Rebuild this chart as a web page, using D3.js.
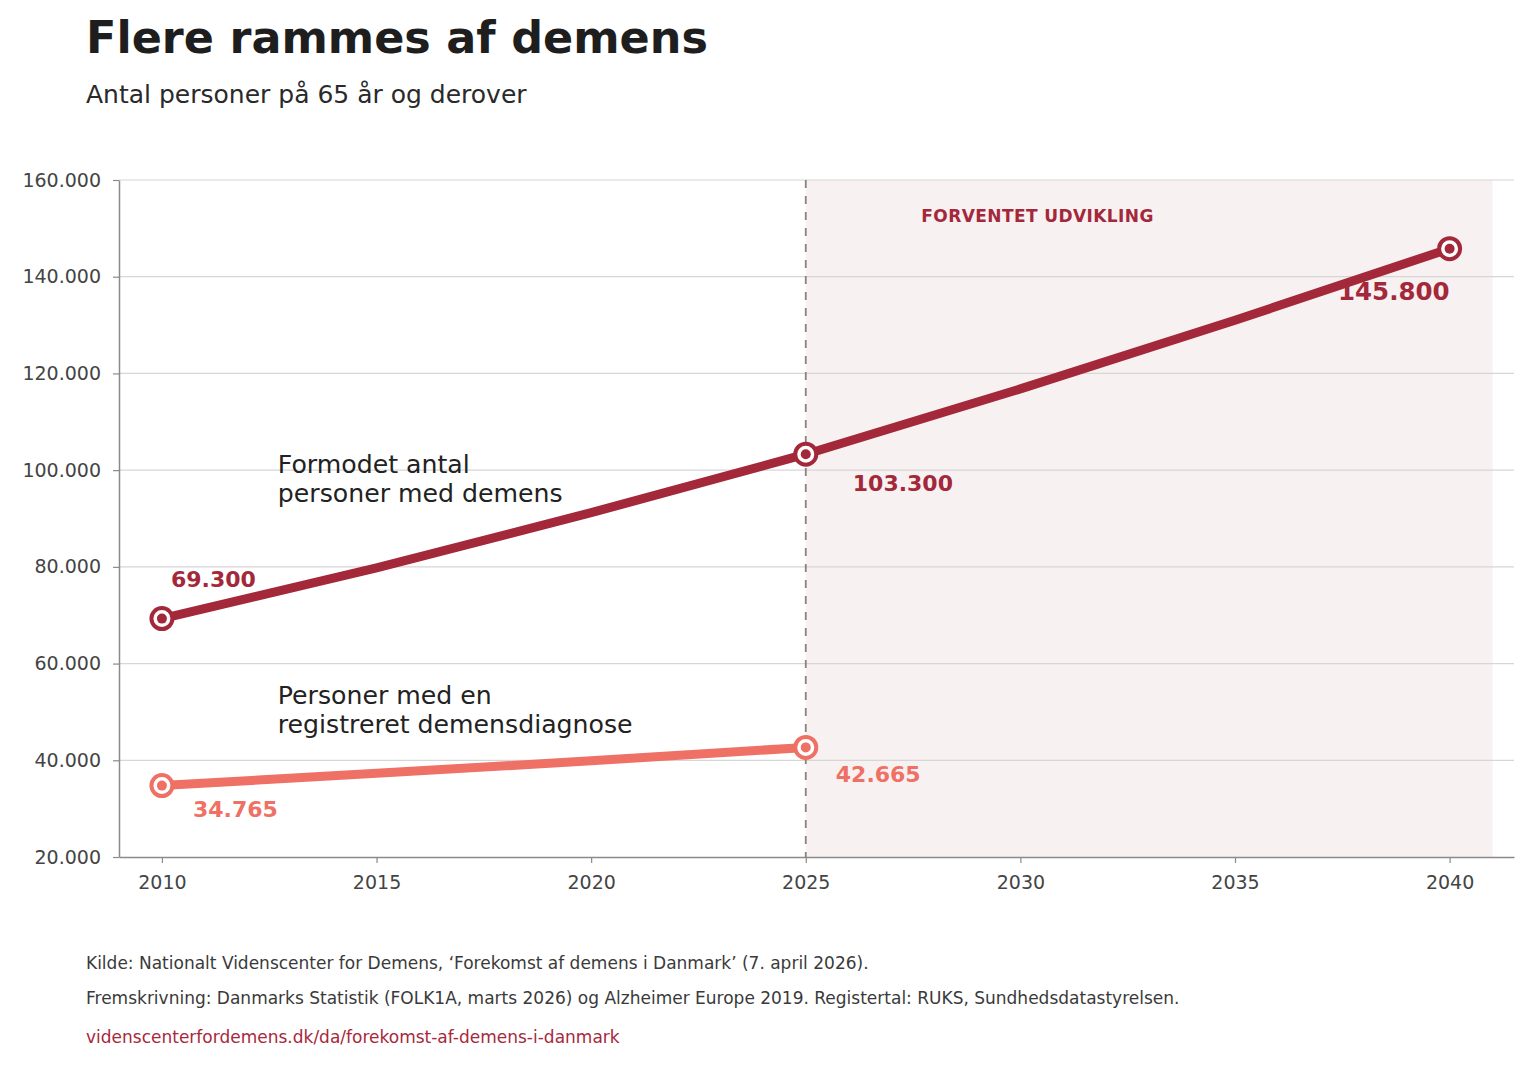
<!DOCTYPE html>
<html>
<head>
<meta charset="utf-8">
<script src="https://cdn.jsdelivr.net/npm/d3@7"></script>
<style>
  body { margin: 0; background: #fff; }
  text { font-family: "DejaVu Sans", sans-serif; }
</style>
</head>
<body>
<div id="chart"></div>
<script>
// data
const years = [2010, 2015, 2020, 2025, 2030, 2035, 2040];
const estimated = [69300, 79800, 91200, 103300, 116800, 131000, 145800];
const regYears = [2010, 2015, 2020, 2025];
const registered = [34765, 37300, 39900, 42665];
const yTicks = [20000, 40000, 60000, 80000, 100000, 120000, 140000, 160000];
const xTicks = [2010, 2015, 2020, 2025, 2030, 2035, 2040];
const forecastStart = 2025;
const forecastEnd = 2041;

const W = 1538, H = 1070;
const dark = "#a3283a";
const light = "#ef7064";
const fmt = d3.formatLocale({decimal: ",", thousands: ".", grouping: [3], currency: ["", ""]}).format(",d");

const svg = d3.select("#chart").append("svg")
  .attr("width", W)
  .attr("height", H);

const x = d3.scaleLinear().domain([2009, 2041.5]).range([119, 1514]);
const y = d3.scaleLinear().domain([20000, 160000]).range([857, 180]);

// title + subtitle
svg.append("text")
  .attr("x", 86).attr("y", 53)
  .attr("font-size", 44.5).attr("font-weight", "bold").attr("fill", "#1e1e1e")
  .text("Flere rammes af demens");
svg.append("text")
  .attr("x", 86).attr("y", 103)
  .attr("font-size", 25).attr("fill", "#2a2a2a")
  .text("Antal personer på 65 år og derover");

// forecast shade
svg.append("rect")
  .attr("x", x(forecastStart)).attr("y", y(160000))
  .attr("width", x(forecastEnd) - x(forecastStart))
  .attr("height", y(20000) - y(160000))
  .attr("fill", "#f8f1f2");

// gridlines
svg.append("g")
  .selectAll("line")
  .data(yTicks.slice(1))
  .join("line")
  .attr("x1", x.range()[0]).attr("x2", x.range()[1])
  .attr("y1", d => y(d)).attr("y2", d => y(d))
  .attr("stroke", "#d6d6d6").attr("stroke-width", 1.2);

// axes
const yAxis = svg.append("g")
  .attr("transform", `translate(${x.range()[0]},0)`)
  .call(d3.axisLeft(y).tickValues(yTicks).tickFormat(fmt).tickSize(6).tickSizeOuter(0).tickPadding(12));
const xAxis = svg.append("g")
  .attr("transform", `translate(0,${y(20000)})`)
  .call(d3.axisBottom(x).tickValues(xTicks).tickFormat(d3.format("d")).tickSize(6).tickSizeOuter(0).tickPadding(13));
[yAxis, xAxis].forEach(g => {
  g.select(".domain").attr("stroke", "#8a8a8a").attr("stroke-width", 1.5);
  g.selectAll(".tick line").attr("stroke", "#8a8a8a").attr("stroke-width", 1.2);
  g.selectAll(".tick text")
    .attr("font-family", "DejaVu Sans, sans-serif")
    .attr("font-size", 19).attr("fill", "#444");
});

// dashed divider at 2025
svg.append("line")
  .attr("x1", x(forecastStart)).attr("x2", x(forecastStart))
  .attr("y1", y(160000)).attr("y2", y(20000))
  .attr("stroke", "#8c7f82").attr("stroke-width", 1.8)
  .attr("stroke-dasharray", "8,8");

svg.append("text")
  .attr("x", x(2030.4)).attr("y", 222)
  .attr("text-anchor", "middle")
  .attr("font-size", 17).attr("font-weight", "bold").attr("fill", dark)
  .attr("letter-spacing", 0.4)
  .text("FORVENTET UDVIKLING");

// series annotations
const notes = [
  {lines: ["Formodet antal", "personer med demens"], year: 2012.7, top: 473},
  {lines: ["Personer med en", "registreret demensdiagnose"], year: 2012.7, top: 704}
];
notes.forEach(n => {
  const t = svg.append("text").attr("font-size", 25.2).attr("fill", "#222");
  n.lines.forEach((l, i) => {
    t.append("tspan").attr("x", x(n.year)).attr("y", n.top + i * 29).text(l);
  });
});

// value labels (drawn below lines so the line crosses them like in the original)
const labels = [
  {year: 2010, value: estimated[0], dx: 9, dy: -40, anchor: "start", color: dark, size: 22},
  {year: 2025, value: estimated[3], dx: 47, dy: 29, anchor: "start", color: dark, size: 22},
  {year: 2040, value: estimated[6], dx: 0, dy: 43, anchor: "end", color: dark, size: 24.5},
  {year: 2010, value: registered[0], dx: 31, dy: 23, anchor: "start", color: light, size: 22},
  {year: 2025, value: registered[3], dx: 30, dy: 27, anchor: "start", color: light, size: 22}
];
svg.append("g")
  .selectAll("text")
  .data(labels)
  .join("text")
  .attr("x", d => x(d.year) + d.dx)
  .attr("y", d => y(d.value) + d.dy)
  .attr("dy", "0.36em")
  .attr("text-anchor", d => d.anchor)
  .attr("font-size", d => d.size)
  .attr("font-weight", "bold")
  .attr("fill", d => d.color)
  .text(d => fmt(d.value));

// lines
const line = d3.line()
  .x(d => x(d[0]))
  .y(d => y(d[1]));

const seriesList = [
  {pts: d3.zip(years, estimated), color: dark, marks: [0, 3, 6]},
  {pts: d3.zip(regYears, registered), color: light, marks: [0, 3]}
];

seriesList.forEach(s => {
  svg.append("path")
    .datum(s.pts)
    .attr("d", line)
    .attr("fill", "none")
    .attr("stroke", s.color)
    .attr("stroke-width", 9)
    .attr("stroke-linejoin", "round");

  const m = svg.append("g")
    .selectAll("g")
    .data(s.marks.map(i => s.pts[i]))
    .join("g")
    .attr("transform", d => `translate(${x(d[0])},${y(d[1])})`);
  m.append("circle").attr("r", 10.5)
    .attr("fill", "#fff").attr("stroke", s.color).attr("stroke-width", 4);
  m.append("circle").attr("r", 5).attr("fill", s.color);
});

// footer
const foot = [
  {t: "Kilde: Nationalt Videnscenter for Demens, ‘Forekomst af demens i Danmark’ (7. april 2026).", y: 969, c: "#3a3a3a"},
  {t: "Fremskrivning: Danmarks Statistik (FOLK1A, marts 2026) og Alzheimer Europe 2019. Registertal: RUKS, Sundhedsdatastyrelsen.", y: 1004, c: "#3a3a3a"},
  {t: "videnscenterfordemens.dk/da/forekomst-af-demens-i-danmark", y: 1043, c: "#a8283c"}
];
svg.append("g")
  .selectAll("text")
  .data(foot)
  .join("text")
  .attr("x", 86).attr("y", d => d.y)
  .attr("font-size", 17)
  .attr("fill", d => d.c)
  .text(d => d.t);
</script>
</body>
</html>
